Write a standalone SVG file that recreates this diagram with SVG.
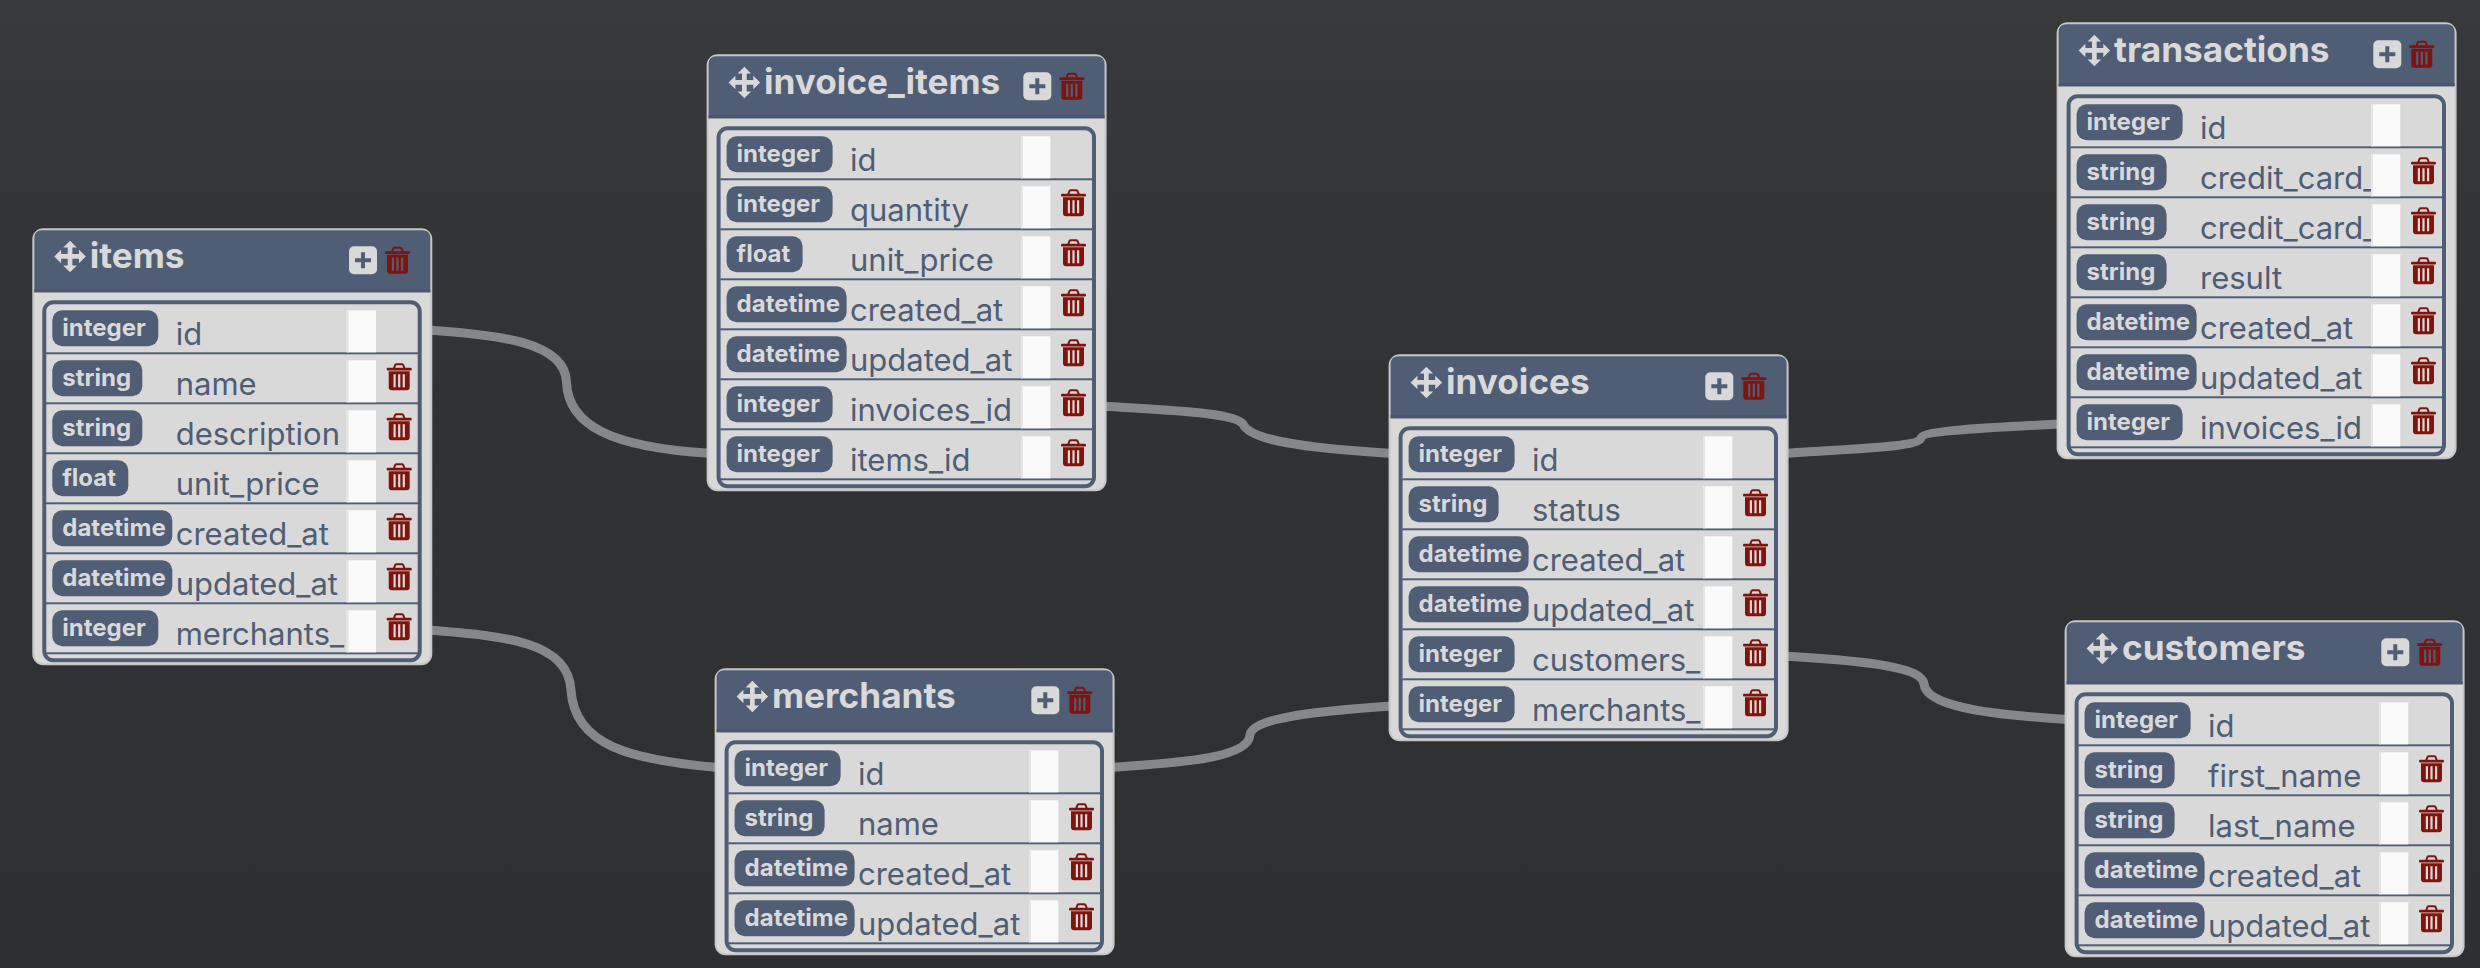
<svg xmlns="http://www.w3.org/2000/svg" xmlns:xlink="http://www.w3.org/1999/xlink" width="2480" height="968" viewBox="0 0 2480 968">
<style>
text{font-family:Inter,"Liberation Sans",sans-serif}
.card{fill:#d9d9d9;stroke:#c6c6c6;stroke-width:2}
.head{fill:#4f5d75}
.headline{fill:#4a576e}
.frame{fill:none;stroke:#4f5d75;stroke-width:4}
.title{font-size:35.2px;font-weight:700;fill:#d9d9d9}
.type{font-size:24px;font-weight:700;fill:#d9d9d9}
.field{font-size:31px;font-weight:400;fill:#4f5d75}
.badge{fill:#4f5d75}
.sep{fill:#4f5d75}
.input{fill:#fafafa}
.inputedge{fill:#e6e6e6}
.danger{fill:#80140d}
.dangerline{fill:none;stroke:#80140d;stroke-width:2}
.link{fill:none;stroke:#85878a;stroke-width:9}
.plusbox{fill:#d9d9d9}
.plusmark{fill:#4f5d75}
.move{fill:#d9d9d9}
</style>
<defs>
<linearGradient id="bg" x1="0" y1="0" x2="0" y2="1"><stop offset="0" stop-color="#38393b"/><stop offset="0.4" stop-color="#313234"/><stop offset="1" stop-color="#2e2f31"/></linearGradient>
<g id="trash">
<path class="dangerline" d="M7 5.5 L8.4 1.8 Q8.8 1 10 1 H15 Q16.2 1 16.6 1.8 L18 5.5"/>
<rect class="danger" x="0" y="4.5" width="25" height="2.8" rx="1"/>
<path class="danger" fill-rule="evenodd" d="M2 8 H23 V24 Q23 27 20 27 H5 Q2 27 2 24 Z M6.8 11 V24 H9 V11 Z M11.4 11 V24 H13.6 V11 Z M16 11 V24 H18.2 V11 Z"/>
</g>
<path id="move" class="move" d="M15.75 0 L22.5 6.8 H18.1 V13.4 H24.7 V9 L31.5 15.75 L24.7 22.5 V18.1 H18.1 V24.7 H22.5 L15.75 31.5 L9 24.7 H13.4 V18.1 H6.8 V22.5 L0 15.75 L6.8 9 V13.4 H13.4 V6.8 H9 Z"/>
<g id="plus"><rect class="plusbox" width="28" height="28" rx="5"/><path class="plusmark" d="M12 6 H16 V12 H22 V16 H16 V22 H12 V16 H6 V12 H12 Z"/></g>
<g id="tail">
<rect class="sep" x="13.7" y="48" width="372" height="2"/>
<rect class="input" x="314.4" y="6" width="29.3" height="42"/>
<rect class="inputedge" x="314.4" y="6" width="2" height="42"/>
</g>
<rect id="bi" class="badge" x="20" y="6" width="106" height="36" rx="10"/>
<rect id="bs" class="badge" x="20" y="6" width="90" height="36" rx="10"/>
<rect id="bf" class="badge" x="20" y="6" width="76" height="36" rx="10"/>
<rect id="bd" class="badge" x="20" y="6" width="120" height="36" rx="10"/>
<use id="rowtrash" href="#trash" x="354.4" y="9"/>
</defs>
<rect width="2480" height="968" fill="url(#bg)"/>
<g id="connectors">
<path class="link" d="M428 330 C500 335 565 342 566.5 382 C568 425 610 447 710 453.3"/>
<path class="link" d="M428 630 C500 636 568 640 571 690 C574 745 630 760 718 767.5"/>
<path class="link" d="M1102 406 C1160 410 1235 412 1243 424 C1250 440 1300 448 1392 453.5"/>
<path class="link" d="M1110 767.5 C1170 763 1248 760 1250 735 C1252 720 1300 712 1392 706"/>
<path class="link" d="M1783 453.5 C1840 449 1918 448 1921 438 C1923 431 1980 428 2060 424"/>
<path class="link" d="M1783 656 C1850 660 1922 665 1924 684 C1926 705 1980 714 2068 719.5"/>
</g>

<g id="items" transform="translate(32.3,228.3)">
<rect class="card" x="1" y="1" width="398" height="435" rx="10"/>
<path class="head" d="M2 64 V10 Q2 2 10 2 H390 Q398 2 398 10 V64 Z"/>
<rect class="headline" x="2" y="61" width="396" height="3"/>
<use href="#move" x="22" y="12.4"/>
<text class="title" x="57.4" y="39.4">items</text>
<use href="#plus" x="316.7" y="18"/>
<use href="#trash" x="352.7" y="18.4"/>
<rect class="frame" x="12" y="74" width="375.4" height="358" rx="9"/>
<g transform="translate(0,76)"><use href="#bi"/><text class="type" x="30" y="31.4">integer</text><text class="field" x="143.4" y="41">id</text><use href="#tail"/></g>
<g transform="translate(0,126)"><use href="#bs"/><text class="type" x="30" y="31.4">string</text><text class="field" x="143.4" y="41">name</text><use href="#tail"/><use href="#rowtrash"/></g>
<g transform="translate(0,176)"><use href="#bs"/><text class="type" x="30" y="31.4">string</text><text class="field" x="143.4" y="41">description</text><use href="#tail"/><use href="#rowtrash"/></g>
<g transform="translate(0,226)"><use href="#bf"/><text class="type" x="30" y="31.4">float</text><text class="field" x="143.4" y="41">unit_price</text><use href="#tail"/><use href="#rowtrash"/></g>
<g transform="translate(0,276)"><use href="#bd"/><text class="type" x="30" y="31.4">datetime</text><text class="field" x="143.4" y="41">created_at</text><use href="#tail"/><use href="#rowtrash"/></g>
<g transform="translate(0,326)"><use href="#bd"/><text class="type" x="30" y="31.4">datetime</text><text class="field" x="143.4" y="41">updated_at</text><use href="#tail"/><use href="#rowtrash"/></g>
<g transform="translate(0,376)"><use href="#bi"/><text class="type" x="30" y="31.4">integer</text><text class="field" x="143.4" y="41">merchants_</text><use href="#tail"/><use href="#rowtrash"/></g>
</g>

<g id="invoice_items" transform="translate(706.6,54.3)">
<rect class="card" x="1" y="1" width="398" height="435" rx="10"/>
<path class="head" d="M2 64 V10 Q2 2 10 2 H390 Q398 2 398 10 V64 Z"/>
<rect class="headline" x="2" y="61" width="396" height="3"/>
<use href="#move" x="22" y="12.4"/>
<text class="title" x="57.4" y="39.4">invoice_items</text>
<use href="#plus" x="316.7" y="18"/>
<use href="#trash" x="352.7" y="18.4"/>
<rect class="frame" x="12" y="74" width="375.4" height="358" rx="9"/>
<g transform="translate(0,76)"><use href="#bi"/><text class="type" x="30" y="31.4">integer</text><text class="field" x="143.4" y="41">id</text><use href="#tail"/></g>
<g transform="translate(0,126)"><use href="#bi"/><text class="type" x="30" y="31.4">integer</text><text class="field" x="143.4" y="41">quantity</text><use href="#tail"/><use href="#rowtrash"/></g>
<g transform="translate(0,176)"><use href="#bf"/><text class="type" x="30" y="31.4">float</text><text class="field" x="143.4" y="41">unit_price</text><use href="#tail"/><use href="#rowtrash"/></g>
<g transform="translate(0,226)"><use href="#bd"/><text class="type" x="30" y="31.4">datetime</text><text class="field" x="143.4" y="41">created_at</text><use href="#tail"/><use href="#rowtrash"/></g>
<g transform="translate(0,276)"><use href="#bd"/><text class="type" x="30" y="31.4">datetime</text><text class="field" x="143.4" y="41">updated_at</text><use href="#tail"/><use href="#rowtrash"/></g>
<g transform="translate(0,326)"><use href="#bi"/><text class="type" x="30" y="31.4">integer</text><text class="field" x="143.4" y="41">invoices_id</text><use href="#tail"/><use href="#rowtrash"/></g>
<g transform="translate(0,376)"><use href="#bi"/><text class="type" x="30" y="31.4">integer</text><text class="field" x="143.4" y="41">items_id</text><use href="#tail"/><use href="#rowtrash"/></g>
</g>

<g id="merchants" transform="translate(714.6,668.3)">
<rect class="card" x="1" y="1" width="398" height="285" rx="10"/>
<path class="head" d="M2 64 V10 Q2 2 10 2 H390 Q398 2 398 10 V64 Z"/>
<rect class="headline" x="2" y="61" width="396" height="3"/>
<use href="#move" x="22" y="12.4"/>
<text class="title" x="57.4" y="39.4">merchants</text>
<use href="#plus" x="316.7" y="18"/>
<use href="#trash" x="352.7" y="18.4"/>
<rect class="frame" x="12" y="74" width="375.4" height="208" rx="9"/>
<g transform="translate(0,76)"><use href="#bi"/><text class="type" x="30" y="31.4">integer</text><text class="field" x="143.4" y="41">id</text><use href="#tail"/></g>
<g transform="translate(0,126)"><use href="#bs"/><text class="type" x="30" y="31.4">string</text><text class="field" x="143.4" y="41">name</text><use href="#tail"/><use href="#rowtrash"/></g>
<g transform="translate(0,176)"><use href="#bd"/><text class="type" x="30" y="31.4">datetime</text><text class="field" x="143.4" y="41">created_at</text><use href="#tail"/><use href="#rowtrash"/></g>
<g transform="translate(0,226)"><use href="#bd"/><text class="type" x="30" y="31.4">datetime</text><text class="field" x="143.4" y="41">updated_at</text><use href="#tail"/><use href="#rowtrash"/></g>
</g>

<g id="invoices" transform="translate(1388.6,354.3)">
<rect class="card" x="1" y="1" width="398" height="385" rx="10"/>
<path class="head" d="M2 64 V10 Q2 2 10 2 H390 Q398 2 398 10 V64 Z"/>
<rect class="headline" x="2" y="61" width="396" height="3"/>
<use href="#move" x="22" y="12.4"/>
<text class="title" x="57.4" y="39.4">invoices</text>
<use href="#plus" x="316.7" y="18"/>
<use href="#trash" x="352.7" y="18.4"/>
<rect class="frame" x="12" y="74" width="375.4" height="308" rx="9"/>
<g transform="translate(0,76)"><use href="#bi"/><text class="type" x="30" y="31.4">integer</text><text class="field" x="143.4" y="41">id</text><use href="#tail"/></g>
<g transform="translate(0,126)"><use href="#bs"/><text class="type" x="30" y="31.4">string</text><text class="field" x="143.4" y="41">status</text><use href="#tail"/><use href="#rowtrash"/></g>
<g transform="translate(0,176)"><use href="#bd"/><text class="type" x="30" y="31.4">datetime</text><text class="field" x="143.4" y="41">created_at</text><use href="#tail"/><use href="#rowtrash"/></g>
<g transform="translate(0,226)"><use href="#bd"/><text class="type" x="30" y="31.4">datetime</text><text class="field" x="143.4" y="41">updated_at</text><use href="#tail"/><use href="#rowtrash"/></g>
<g transform="translate(0,276)"><use href="#bi"/><text class="type" x="30" y="31.4">integer</text><text class="field" x="143.4" y="41">customers_</text><use href="#tail"/><use href="#rowtrash"/></g>
<g transform="translate(0,326)"><use href="#bi"/><text class="type" x="30" y="31.4">integer</text><text class="field" x="143.4" y="41">merchants_</text><use href="#tail"/><use href="#rowtrash"/></g>
</g>

<g id="transactions" transform="translate(2056.6,22.3)">
<rect class="card" x="1" y="1" width="398" height="435" rx="10"/>
<path class="head" d="M2 64 V10 Q2 2 10 2 H390 Q398 2 398 10 V64 Z"/>
<rect class="headline" x="2" y="61" width="396" height="3"/>
<use href="#move" x="22" y="12.4"/>
<text class="title" x="57.4" y="39.4">transactions</text>
<use href="#plus" x="316.7" y="18"/>
<use href="#trash" x="352.7" y="18.4"/>
<rect class="frame" x="12" y="74" width="375.4" height="358" rx="9"/>
<g transform="translate(0,76)"><use href="#bi"/><text class="type" x="30" y="31.4">integer</text><text class="field" x="143.4" y="41">id</text><use href="#tail"/></g>
<g transform="translate(0,126)"><use href="#bs"/><text class="type" x="30" y="31.4">string</text><text class="field" x="143.4" y="41">credit_card_</text><use href="#tail"/><use href="#rowtrash"/></g>
<g transform="translate(0,176)"><use href="#bs"/><text class="type" x="30" y="31.4">string</text><text class="field" x="143.4" y="41">credit_card_</text><use href="#tail"/><use href="#rowtrash"/></g>
<g transform="translate(0,226)"><use href="#bs"/><text class="type" x="30" y="31.4">string</text><text class="field" x="143.4" y="41">result</text><use href="#tail"/><use href="#rowtrash"/></g>
<g transform="translate(0,276)"><use href="#bd"/><text class="type" x="30" y="31.4">datetime</text><text class="field" x="143.4" y="41">created_at</text><use href="#tail"/><use href="#rowtrash"/></g>
<g transform="translate(0,326)"><use href="#bd"/><text class="type" x="30" y="31.4">datetime</text><text class="field" x="143.4" y="41">updated_at</text><use href="#tail"/><use href="#rowtrash"/></g>
<g transform="translate(0,376)"><use href="#bi"/><text class="type" x="30" y="31.4">integer</text><text class="field" x="143.4" y="41">invoices_id</text><use href="#tail"/><use href="#rowtrash"/></g>
</g>

<g id="customers" transform="translate(2064.6,620.3)">
<rect class="card" x="1" y="1" width="398" height="335" rx="10"/>
<path class="head" d="M2 64 V10 Q2 2 10 2 H390 Q398 2 398 10 V64 Z"/>
<rect class="headline" x="2" y="61" width="396" height="3"/>
<use href="#move" x="22" y="12.4"/>
<text class="title" x="57.4" y="39.4">customers</text>
<use href="#plus" x="316.7" y="18"/>
<use href="#trash" x="352.7" y="18.4"/>
<rect class="frame" x="12" y="74" width="375.4" height="258" rx="9"/>
<g transform="translate(0,76)"><use href="#bi"/><text class="type" x="30" y="31.4">integer</text><text class="field" x="143.4" y="41">id</text><use href="#tail"/></g>
<g transform="translate(0,126)"><use href="#bs"/><text class="type" x="30" y="31.4">string</text><text class="field" x="143.4" y="41">first_name</text><use href="#tail"/><use href="#rowtrash"/></g>
<g transform="translate(0,176)"><use href="#bs"/><text class="type" x="30" y="31.4">string</text><text class="field" x="143.4" y="41">last_name</text><use href="#tail"/><use href="#rowtrash"/></g>
<g transform="translate(0,226)"><use href="#bd"/><text class="type" x="30" y="31.4">datetime</text><text class="field" x="143.4" y="41">created_at</text><use href="#tail"/><use href="#rowtrash"/></g>
<g transform="translate(0,276)"><use href="#bd"/><text class="type" x="30" y="31.4">datetime</text><text class="field" x="143.4" y="41">updated_at</text><use href="#tail"/><use href="#rowtrash"/></g>
</g>
</svg>
